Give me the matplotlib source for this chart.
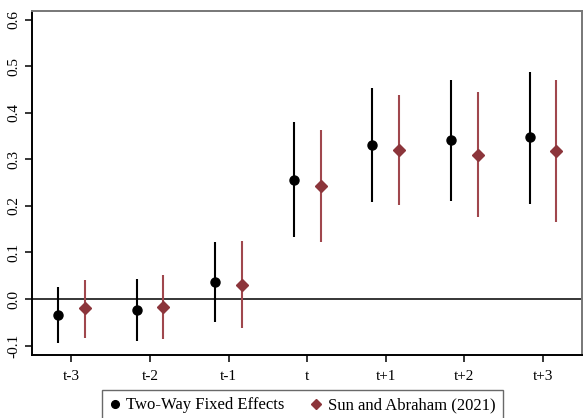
import numpy as np
import matplotlib.pyplot as plt

# periods and estimates
periods = ["t-3", "t-2", "t-1", "t", "t+1", "t+2", "t+3"]

twfe_coef = [-0.034, -0.024, 0.036, 0.256, 0.331, 0.342, 0.347]
twfe_lo = [-0.095, -0.090, -0.049, 0.133, 0.209, 0.211, 0.204]
twfe_hi = [0.026, 0.043, 0.123, 0.381, 0.453, 0.471, 0.488]

sa_coef = [-0.019, -0.017, 0.030, 0.243, 0.320, 0.310, 0.319]
sa_lo = [-0.084, -0.086, -0.062, 0.123, 0.201, 0.177, 0.165]
sa_hi = [0.041, 0.052, 0.125, 0.363, 0.439, 0.444, 0.471]

plt.rcParams['font.family'] = ['Liberation Serif', 'DejaVu Serif']

fig = plt.figure(figsize=(5.84, 4.18), dpi=100)
ax = fig.add_axes([0.055, 0.151, 0.942, 0.823])

x = np.arange(len(periods))
off = 0.17
red = '#8c353b'

ax.axhline(0, color='black', lw=1.1, zorder=1)
ax.vlines(x - off, twfe_lo, twfe_hi, color='black', lw=1.5, zorder=2)
ax.vlines(x + off, sa_lo, sa_hi, color='#a0474d', lw=1.5, zorder=2)
ax.plot(x - off, twfe_coef, 'o', color='black', ms=6.5, zorder=3,
        label='Two-Way Fixed Effects')
ax.plot(x + off, sa_coef, 'D', color=red, ms=6.5, zorder=3,
        label='Sun and Abraham (2021)')

ax.set_xlim(-0.5, 6.5)
ax.set_ylim(-0.12, 0.619)
ax.set_xticks(x)
ax.set_xticklabels(periods)
ax.set_yticks([-0.1, 0.0, 0.1, 0.2, 0.3, 0.4, 0.5, 0.6])
ax.set_yticklabels(['-0.1', '0.0', '0.1', '0.2', '0.3', '0.4', '0.5', '0.6'],
                   rotation=90, va='center')
ax.tick_params(labelsize=11, length=5, width=1.1, color='black')
ax.tick_params(axis='x', pad=6)

for s in ['left', 'bottom']:
    ax.spines[s].set_color('black')
    ax.spines[s].set_linewidth(1.4)
for s in ['top', 'right']:
    ax.spines[s].set_color('#777777')
    ax.spines[s].set_linewidth(1.4)

leg = fig.legend(loc='lower center', bbox_to_anchor=(0.518, -0.019), ncol=2,
                 fontsize=12, fancybox=False, edgecolor='#444444',
                 handlelength=0.6, handletextpad=0.4, columnspacing=1.6,
                 borderpad=0.45, borderaxespad=0.3, markerscale=0.85)
leg.get_frame().set_linewidth(1.0)

fig.savefig('out.png', dpi=100)
